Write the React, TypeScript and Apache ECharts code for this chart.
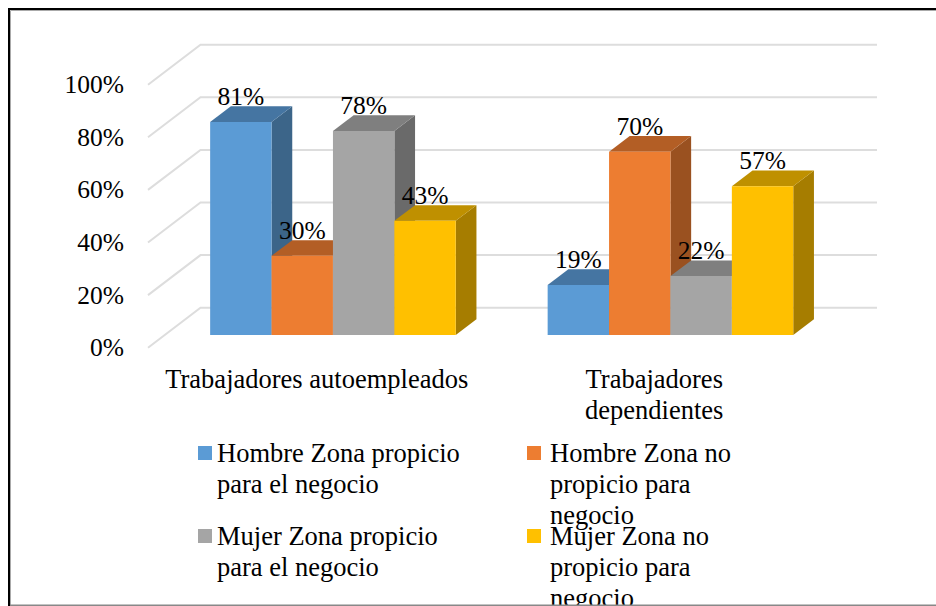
import React, { useEffect, useRef } from "react";
import * as echarts from "echarts";

const categories = ["Trabajadores autoempleados", "Trabajadores\ndependientes"];
const seriesNames = [
  "Hombre Zona propicio para el negocio",
  "Hombre Zona no propicio para negocio",
  "Mujer Zona propicio para el negocio",
  "Mujer Zona no propicio para negocio",
];
const hombrePropicio = [81, 19];
const hombreNoPropicio = [30.1, 69.7];
const mujerPropicio = [77.6, 22.4];
const mujerNoPropicio = [43.4, 56.6];
const seriesValues = [hombrePropicio, hombreNoPropicio, mujerPropicio, mujerNoPropicio];
const ticks = [0, 20, 40, 60, 80, 100];
const frontColors = ["#5B9BD5", "#ED7D31", "#A5A5A5", "#FFC000"];
const topColors = ["#4575A2", "#B35E25", "#7F7F7F", "#BF9000"];
const sideColors = ["#3C6589", "#9A5120", "#6A6A6A", "#A67D00"];
const legendLines = [
  ["Hombre Zona propicio", "para el negocio"],
  ["Hombre Zona no", "propicio para", "negocio"],
  ["Mujer Zona propicio", "para el negocio"],
  ["Mujer Zona no", "propicio para", "negocio"],
];

const FONT = '"Liberation Serif", "Times New Roman", serif';
const FS_BIG = 26.5;
const FS = 25.5;
const BAR_W = 61.4;
const BAR_DX = 20.7;
const BAR_DY = 15.7;
const OFF_X = 16.2;
const OFF_Y = 12.7;
const WALL_DX = 52.5;
const WALL_DY = 40;
const WALL_END = 877;

const legendPos = [
  { sx: 198, tx: 217, y: 453 },
  { sx: 527, tx: 550, y: 453 },
  { sx: 198, tx: 217, y: 536 },
  { sx: 527, tx: 550, y: 536 },
];

export default function App() {
  const ref = useRef<HTMLDivElement>(null);
  useEffect(() => {
    const chart = echarts.init(ref.current!, null, { renderer: "svg" });
    const barSeries = seriesValues.map((vals, s) => ({
      type: "custom",
      name: seriesNames[s],
      z: 3,
      clip: false,
      data: vals.map((v, i) => [i, v]),
      renderItem: (_p: any, api: any) => {
        const [cx, yTop] = api.coord([api.value(0), api.value(1)]);
        const [, yBase] = api.coord([api.value(0), 0]);
        const x0 = cx + OFF_X + (s - 2) * BAR_W;
        const x1 = x0 + BAR_W;
        const t = yTop - OFF_Y;
        const b = yBase - OFF_Y;
        return {
          type: "group",
          children: [
            {
              type: "polygon",
              shape: { points: [[x1, t], [x1 + BAR_DX, t - BAR_DY], [x1 + BAR_DX, b - BAR_DY], [x1, b]] },
              style: { fill: sideColors[s] },
            },
            {
              type: "polygon",
              shape: { points: [[x0, t], [x0 + BAR_DX, t - BAR_DY], [x1 + BAR_DX, t - BAR_DY], [x1, t]] },
              style: { fill: topColors[s] },
            },
            { type: "rect", shape: { x: x0, y: t, width: BAR_W, height: b - t }, style: { fill: frontColors[s] } },
          ],
        };
      },
    }));
    const labelSeries = seriesValues.map((vals, s) => ({
      type: "custom",
      name: seriesNames[s] + " etiquetas",
      z: 5,
      clip: false,
      silent: true,
      data: vals.map((v, i) => [i, v]),
      renderItem: (_p: any, api: any) => {
        const [cx, yTop] = api.coord([api.value(0), api.value(1)]);
        return {
          type: "text",
          style: {
            x: cx + OFF_X + (s - 1.5) * BAR_W,
            y: yTop - OFF_Y - 25.5,
            text: Math.round(api.value(1)) + "%",
            align: "center",
            verticalAlign: "middle",
            fontFamily: FONT,
            fontSize: FS,
            fill: "#000",
          },
        };
      },
    }));
    const wallSeries = {
      type: "custom",
      name: "Paredes",
      z: 1,
      clip: false,
      silent: true,
      data: ticks.map((t) => [0, t]),
      renderItem: (params: any, api: any) => {
        const [, y] = api.coord([0, api.value(1)]);
        const left = params.coordSys.x;
        return {
          type: "polyline",
          shape: { points: [[left, y], [left + WALL_DX, y - WALL_DY], [WALL_END, y - WALL_DY]] },
          style: { fill: "none", stroke: "#DDDDDD", lineWidth: 2 },
        };
      },
    };
    const legendGraphics: any[] = [];
    legendLines.forEach((lines, i) => {
      const p = legendPos[i];
      legendGraphics.push({
        type: "rect",
        shape: { x: p.sx, y: p.y - 7, width: 14, height: 14 },
        style: { fill: frontColors[i] },
      });
      lines.forEach((line, j) => {
        legendGraphics.push({
          type: "text",
          x: p.tx,
          y: p.y + j * 31,
          style: { text: line, fontFamily: FONT, fontSize: FS_BIG, fill: "#000", verticalAlign: "middle" },
        });
      });
    });
    chart.setOption({
      animation: false,
      backgroundColor: "#fff",
      grid: { left: 148, top: 84.7, width: 675, height: 263 },
      xAxis: {
        type: "category",
        data: categories,
        axisLine: { show: false },
        axisTick: { show: false },
        splitLine: { show: false },
        axisLabel: { interval: 0, margin: 16, fontFamily: FONT, fontSize: FS_BIG, color: "#000", lineHeight: 31 },
      },
      yAxis: {
        type: "value",
        min: 0,
        max: 100,
        interval: 20,
        axisLine: { show: false },
        axisTick: { show: false },
        splitLine: { show: false },
        axisLabel: { margin: 24, fontFamily: FONT, fontSize: FS, color: "#000", formatter: "{value}%" },
      },
      series: [wallSeries, ...barSeries, ...labelSeries],
      graphic: [
        {
          type: "polyline",
          z: 9,
          shape: { points: [[10.5, 606], [10.5, 10.5], [936, 10.5]] },
          style: { fill: "none", stroke: "#AAAAAA", lineWidth: 1 },
        },
        {
          type: "polyline",
          z: 10,
          shape: { points: [[9, 606], [9, 9], [936, 9]] },
          style: { fill: "none", stroke: "#000", lineWidth: 2 },
        },
        {
          type: "line",
          z: 10,
          shape: { x1: 10, y1: 605.25, x2: 936, y2: 605.25 },
          style: { stroke: "#888", lineWidth: 1.5 },
        },
        ...legendGraphics,
      ],
    });
    return () => chart.dispose();
  }, []);
  return <div ref={ref} style={{ position: "absolute", left: 0, top: 0, width: 936, height: 606 }} />;
}
